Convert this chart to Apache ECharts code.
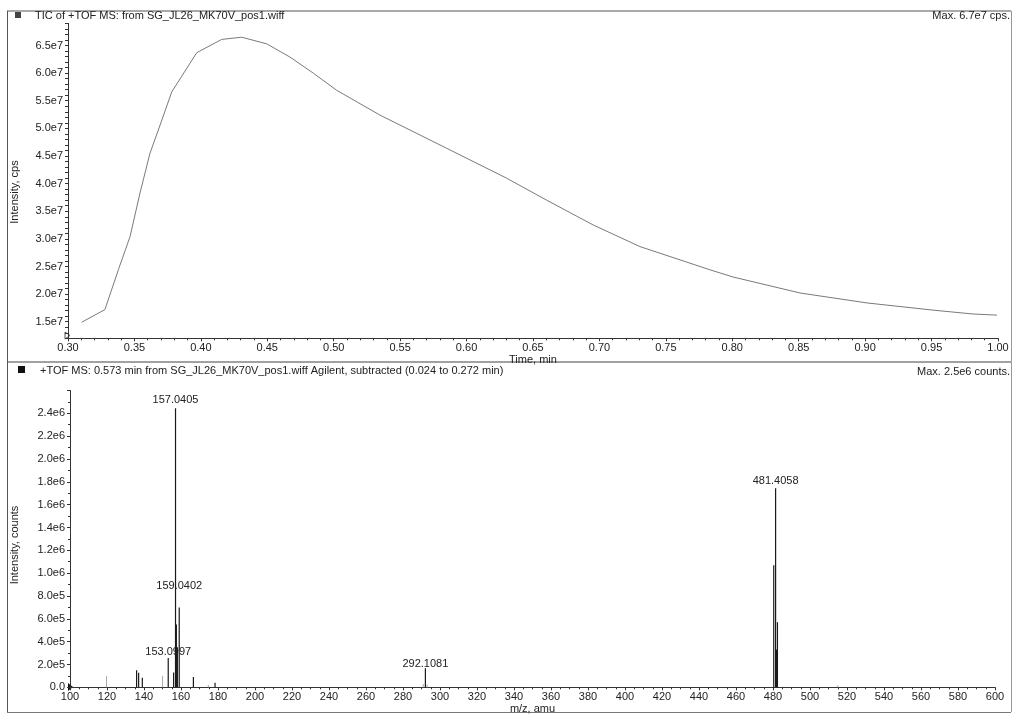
<!DOCTYPE html>
<html><head><meta charset="utf-8">
<script src="https://cdn.jsdelivr.net/npm/echarts@6/dist/echarts.min.js"></script>
<style>html,body{margin:0;padding:0;background:#fff}#c{width:1013px;height:715px}</style>
</head><body><div id="c"></div>
<script>
// ---- TIC chromatogram (top) ----
const ticTime = [0.3103,0.3278,0.3379,0.3467,0.3542,0.3617,0.3680,0.3781,0.3969,0.4157,0.4307,0.4496,0.4671,0.4846,0.5022,0.5348,0.5850,0.6300,0.6603,0.6954,0.7305,0.7832,0.8005,0.8510,0.9014,0.9510,0.9811,0.9992];
const ticIntensity = [1.49e7,1.72e7,2.44e7,3.04e7,3.83e7,4.55e7,4.97e7,5.66e7,6.37e7,6.61e7,6.65e7,6.53e7,6.29e7,6.00e7,5.69e7,5.24e7,4.64e7,4.10e7,3.70e7,3.25e7,2.86e7,2.44e7,2.31e7,2.02e7,1.84e7,1.71e7,1.64e7,1.62e7];

// ---- Mass spectrum (bottom) ----
const peakMz =        [136.0, 137.1, 139.1, 153.0997, 156.0, 157.0405, 157.5, 158.04, 159.0402, 166.7, 178.4, 292.1081, 480.4, 481.4058, 481.9, 482.4];
const peakIntensity = [1.5e5, 1.28e5, 8.4e4, 2.57e5,  1.3e5, 2.444e6,  5.5e5, 3.5e5,  7.0e5,    9.0e4, 4.0e4, 1.66e5,   1.07e6, 1.743e6, 3.3e5, 5.7e5];
const faintMz =        [119.8, 150.1, 174.8, 291.0, 293.1, 515.0];
const faintIntensity = [1.0e5, 1.0e5, 2.0e4, 3.0e4, 2.5e4, 1.5e4];
const labelledMz = [157.0405, 159.0402, 153.0997, 292.1081, 481.4058];

// texts
const topTitle = 'TIC of +TOF MS: from SG_JL26_MK70V_pos1.wiff';
const topMax = 'Max. 6.7e7 cps.';
const botTitle = '+TOF MS: 0.573 min from SG_JL26_MK70V_pos1.wiff Agilent, subtracted (0.024 to 0.272 min)';
const botMax = 'Max. 2.5e6 counts.';

// label offsets (layout only)
const labelDistance = {157.0405: 3, 159.0402: 16, 153.0997: 0, 292.1081: -1, 481.4058: 2};

const FONT = "'Liberation Sans', Arial, sans-serif";
const TXT = '#222';
const AX = '#333';

const chart = echarts.init(document.getElementById('c'), null, {renderer: 'canvas'});

const peakData = peakMz.map((m, i) => {
  const d = {value: [m, peakIntensity[i]]};
  if (labelledMz.indexOf(m) >= 0) {
    d.label = {show: true, position: 'top', distance: labelDistance[m],
      formatter: () => m.toFixed(4), fontSize: 11, color: TXT, fontFamily: FONT};
  }
  return d;
});
const faintData = faintMz.map((m, i) => [m, faintIntensity[i]]);

function axisCommon() {
  return {
    axisLine: {show: true, lineStyle: {color: AX, width: 1}},
    axisTick: {show: true, length: 3, lineStyle: {color: AX}},
    axisLabel: {fontSize: 11, color: TXT, fontFamily: FONT, margin: 4},
    splitLine: {show: false}
  };
}

const option = {
  animation: false,
  backgroundColor: '#fff',
  textStyle: {fontFamily: FONT},
  grid: [
    {left: 68, right: 15, top: 23.4, height: 314.9, containLabel: false, outerBoundsMode: 'none'},
    {left: 70, right: 18, top: 390.5, height: 296.8, containLabel: false, outerBoundsMode: 'none'}
  ],
  xAxis: [
    Object.assign(axisCommon(), {
      type: 'value', gridIndex: 0, min: 0.30, max: 1.00, interval: 0.05,
      minorTick: {show: true, splitNumber: 5, length: 2, lineStyle: {color: AX}},
      axisLabel: {fontSize: 11, color: TXT, fontFamily: FONT, margin: 4, formatter: v => v.toFixed(2)},
      name: 'Time, min', nameLocation: 'middle', nameGap: 15,
      nameTextStyle: {fontSize: 11, color: TXT, fontFamily: FONT}
    }),
    Object.assign(axisCommon(), {
      type: 'value', gridIndex: 1, min: 100, max: 600, interval: 20,
      minorTick: {show: true, splitNumber: 4, length: 2, lineStyle: {color: AX}},
      axisLabel: {fontSize: 11, color: TXT, fontFamily: FONT, margin: 4, formatter: v => String(Math.round(v))},
      name: 'm/z, amu', nameLocation: 'middle', nameGap: 16,
      nameTextStyle: {fontSize: 11, color: TXT, fontFamily: FONT}
    })
  ],
  yAxis: [
    Object.assign(axisCommon(), {
      type: 'value', gridIndex: 0, min: 1.2e7, max: 6.9e7, interval: 1e6,
      axisLabel: {fontSize: 11, color: TXT, fontFamily: FONT, margin: 5, showMinLabel: true, showMaxLabel: true,
        formatter: v => (Math.round(v / 1e6) % 5 === 0) ? (v / 1e7).toFixed(1) + 'e7' : ''}
    }),
    Object.assign(axisCommon(), {
      type: 'value', gridIndex: 1, min: 0, max: 2.6e6, interval: 2e5,
      minorTick: {show: true, splitNumber: 2, length: 2, lineStyle: {color: AX}},
      axisLabel: {fontSize: 11, color: TXT, fontFamily: FONT, margin: 5,
        formatter: v => {
          if (v === 0) return '0.0';
          if (v >= 2.5e6) return '';
          if (v < 1e6) return (v / 1e5).toFixed(1) + 'e5';
          return (v / 1e6).toFixed(1) + 'e6';
        }}
    })
  ],
  series: [
    {
      type: 'line', xAxisIndex: 0, yAxisIndex: 0,
      data: ticTime.map((t, i) => [t, ticIntensity[i]]),
      showSymbol: false, symbol: 'none',
      lineStyle: {color: '#7a7a7a', width: 1}
    },
    {
      type: 'bar', xAxisIndex: 1, yAxisIndex: 1,
      data: faintData, barWidth: 1, barGap: '-100%',
      itemStyle: {color: '#a8a8a8'}
    },
    {
      type: 'bar', xAxisIndex: 1, yAxisIndex: 1,
      data: peakData, barWidth: 1.2, barGap: '-100%',
      itemStyle: {color: '#1a1a1a'}
    }
  ],
  graphic: [
    // frame
    {type: 'line', shape: {x1: 7, y1: 11, x2: 1011, y2: 11}, style: {stroke: '#555', lineWidth: 1}},
    {type: 'line', shape: {x1: 7.5, y1: 11, x2: 7.5, y2: 712}, style: {stroke: '#555', lineWidth: 1}},
    {type: 'line', shape: {x1: 1011.5, y1: 11, x2: 1011.5, y2: 712}, style: {stroke: '#999', lineWidth: 1}},
    {type: 'line', shape: {x1: 7, y1: 362, x2: 1011, y2: 362}, style: {stroke: '#444', lineWidth: 1.2}},
    {type: 'line', shape: {x1: 7, y1: 712.5, x2: 1011, y2: 712.5}, style: {stroke: '#777', lineWidth: 1}},
    // icons
    {type: 'rect', shape: {x: 15, y: 12, width: 6, height: 6}, style: {fill: '#444'}},
    {type: 'rect', shape: {x: 18, y: 366, width: 7, height: 7}, style: {fill: '#111'}},
    // header texts
    {type: 'text', left: 35, top: 10, style: {text: topTitle, font: '11px ' + FONT, fill: TXT}},
    {type: 'text', right: 3, top: 10, style: {text: topMax, font: '11px ' + FONT, fill: TXT}},
    {type: 'text', left: 40, top: 365, style: {text: botTitle, font: '11px ' + FONT, fill: TXT}},
    {type: 'text', right: 3, top: 366, style: {text: botMax, font: '11px ' + FONT, fill: TXT}},
    // y-axis titles
    {type: 'text', x: 15, y: 192, rotation: Math.PI / 2,
      style: {text: 'Intensity, cps', font: '11px ' + FONT, fill: TXT, align: 'center', verticalAlign: 'middle'}},
    {type: 'text', x: 15, y: 545, rotation: Math.PI / 2,
      style: {text: 'Intensity, counts', font: '11px ' + FONT, fill: TXT, align: 'center', verticalAlign: 'middle'}},
    // origin markers
    {type: 'polygon', shape: {points: [[65, 332], [70, 335.5], [65, 339]]}, style: {fill: '#fff', stroke: '#555', lineWidth: 1}},
    {type: 'polygon', shape: {points: [[68, 683], [73, 687], [68, 691]]}, style: {fill: '#111'}}
  ]
};
chart.setOption(option);
</script>
</body></html>
